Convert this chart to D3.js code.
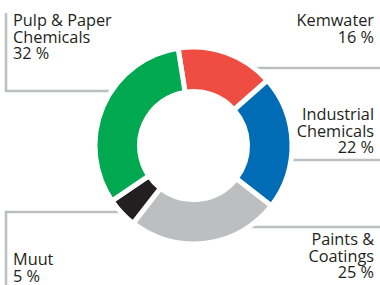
<meta charset="utf-8">
<html>
<head>
<style>
  body { margin: 0; background: #fff; }
  svg text { font-family: "Open Sans", "Noto Sans", sans-serif; font-size: 16.3px; fill: #231f20; }
</style>
</head>
<body>
<div id="chart"></div>
<script src="https://d3js.org/d3.v7.min.js"></script>
<script>
// data
var segments = ["Kemwater", "Industrial Chemicals", "Paints & Coatings", "Muut", "Pulp & Paper Chemicals"];
var shares = [16, 22, 25, 5, 32];
var colors = ["#ef4c42", "#006cb6", "#bcbec0", "#231f20", "#00a94f"];
var labelLines = [["Kemwater", "16 %"], ["Industrial", "Chemicals", "22 %"], ["Paints &", "Coatings", "25 %"], ["Muut", "5 %"], ["Pulp & Paper", "Chemicals", "32 %"]];

var width = 380, height = 285;
var cx = 193.5, cy = 145.5, rOuter = 98.5, rInner = 54;

var svg = d3.select("#chart")
  .append("svg")
    .attr("width", width)
    .attr("height", height);

// label placement: side, text anchor x, first baseline, leader line y
var place = [
  {side: "right", x: 374, y: 26, lineY: 68},
  {side: "right", x: 374, y: 120, lineY: 160},
  {side: "right", x: 374, y: 245, lineY: 227},
  {side: "left", x: 13, y: 265, lineY: 212, end: 285},
  {side: "left", x: 13, y: 26, lineY: 91, end: 13}
];
var lineH = 16.5;
var grey = "#bcbec0";

// leader lines, behind the donut
var lines = svg.append("g")
  .attr("stroke", grey)
  .attr("stroke-width", 2.5)
  .attr("fill", "none");

place.forEach(function(p) {
  if (p.side == "right") {
    lines.append("line")
      .attr("x1", cx).attr("x2", width)
      .attr("y1", p.lineY).attr("y2", p.lineY);
  } else {
    lines.append("path")
      .attr("d", "M" + cx + "," + p.lineY + "H6V" + p.end);
  }
});

// donut
var start = -9 * Math.PI / 180;
var pie = d3.pie()
  .sort(null)
  .startAngle(start)
  .endAngle(start + 2 * Math.PI);
var arc = d3.arc()
  .innerRadius(rInner)
  .outerRadius(rOuter);

var g = svg.append("g")
  .attr("transform", "translate(" + cx + "," + cy + ")");

// white disc so the leader lines don't show through the hole
g.append("circle").attr("r", rOuter).attr("fill", "#fff");

g.selectAll("path")
  .data(pie(shares))
  .enter()
  .append("path")
    .attr("d", arc)
    .attr("fill", function(d, i) { return colors[i]; })
    .attr("stroke", "#fff")
    .attr("stroke-width", 5)
    .attr("stroke-linejoin", "miter");

// labels, one text per line
place.forEach(function(p, i) {
  labelLines[i].forEach(function(s, k) {
    svg.append("text")
      .attr("text-anchor", p.side == "right" ? "end" : "start")
      .attr("x", p.x)
      .attr("y", p.y + k * lineH)
      .text(s);
  });
});
</script>
</body>
</html>
